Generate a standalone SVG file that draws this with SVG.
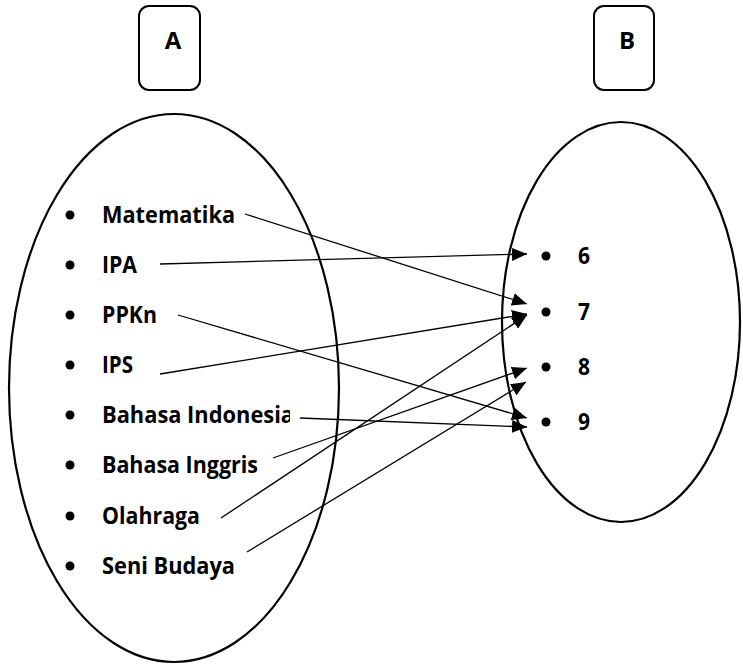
<svg xmlns="http://www.w3.org/2000/svg" width="743" height="664" viewBox="0 0 743 664">
  <style>
    .set { fill: none; stroke: #000; stroke-width: 2.2; }
    .box { fill: #fff; stroke: #000; stroke-width: 2; }
    .lbl { font-family: "Open Sans", "Liberation Sans", Arial, sans-serif; font-weight: bold; font-size: 24px; fill: #000; }
    .dot { fill: #000; }
    .link { fill: none; stroke: #000; stroke-width: 1.3; marker-end: url(#head); }
  </style>
  <defs>
    <marker id="head" viewBox="0 0 15 13" refX="15" refY="6.5" markerWidth="15" markerHeight="13" markerUnits="userSpaceOnUse" orient="auto">
      <path d="M0,0 L15,6.5 L0,13 Z" fill="#000"/>
    </marker>
    <clipPath id="clipIndo">
      <rect x="95" y="395" width="195" height="40"/>
    </clipPath>
  </defs>

  <rect width="743" height="664" fill="#fff"/>

  <!-- set name boxes -->
  <g id="box-A">
    <rect class="box" x="139" y="6" width="61" height="84" rx="10"/>
    <text class="lbl" x="173" y="49" text-anchor="middle">A</text>
  </g>
  <g id="box-B">
    <rect class="box" x="594" y="6" width="60" height="84" rx="10"/>
    <text class="lbl" x="627" y="49" text-anchor="middle">B</text>
  </g>

  <!-- domain set -->
  <g id="set-A">
    <ellipse class="set" cx="174" cy="388" rx="165" ry="274"/>
    <g id="a-matematika"><circle class="dot" cx="70" cy="215" r="4.5"/><text class="lbl" x="102" y="223" textLength="133" lengthAdjust="spacingAndGlyphs">Matematika</text></g>
    <g id="a-ipa"><circle class="dot" cx="70" cy="265" r="4.5"/><text class="lbl" x="102" y="273" textLength="35" lengthAdjust="spacingAndGlyphs">IPA</text></g>
    <g id="a-ppkn"><circle class="dot" cx="70" cy="315" r="4.5"/><text class="lbl" x="102" y="323" textLength="55" lengthAdjust="spacingAndGlyphs">PPKn</text></g>
    <g id="a-ips"><circle class="dot" cx="70" cy="365" r="4.5"/><text class="lbl" x="102" y="373" textLength="31" lengthAdjust="spacingAndGlyphs">IPS</text></g>
    <g id="a-bahasa-indonesia"><circle class="dot" cx="70" cy="415" r="4.5"/><text class="lbl" x="102" y="423" textLength="192" lengthAdjust="spacingAndGlyphs" clip-path="url(#clipIndo)">Bahasa Indonesia</text></g>
    <g id="a-bahasa-inggris"><circle class="dot" cx="70" cy="465" r="4.5"/><text class="lbl" x="102" y="473" textLength="156" lengthAdjust="spacingAndGlyphs">Bahasa Inggris</text></g>
    <g id="a-olahraga"><circle class="dot" cx="70" cy="516" r="4.5"/><text class="lbl" x="102" y="524" textLength="98" lengthAdjust="spacingAndGlyphs">Olahraga</text></g>
    <g id="a-seni-budaya"><circle class="dot" cx="70" cy="566" r="4.5"/><text class="lbl" x="102" y="574" textLength="133" lengthAdjust="spacingAndGlyphs">Seni Budaya</text></g>
  </g>

  <!-- codomain set -->
  <g id="set-B">
    <ellipse class="set" cx="621" cy="322" rx="119" ry="200"/>
    <g id="b-6"><circle class="dot" cx="546" cy="256" r="4.5"/><text class="lbl" x="578" y="264" textLength="12" lengthAdjust="spacingAndGlyphs">6</text></g>
    <g id="b-7"><circle class="dot" cx="546" cy="312" r="4.5"/><text class="lbl" x="578" y="320" textLength="12" lengthAdjust="spacingAndGlyphs">7</text></g>
    <g id="b-8"><circle class="dot" cx="546" cy="367" r="4.5"/><text class="lbl" x="578" y="375" textLength="12" lengthAdjust="spacingAndGlyphs">8</text></g>
    <g id="b-9"><circle class="dot" cx="546" cy="422" r="4.5"/><text class="lbl" x="578" y="430" textLength="12" lengthAdjust="spacingAndGlyphs">9</text></g>
  </g>

  <!-- mapping arrows -->
  <g id="connectors">
    <line class="link" x1="245" y1="214" x2="527" y2="304"/>
    <line class="link" x1="160" y1="264" x2="527" y2="254"/>
    <line class="link" x1="178" y1="315" x2="527" y2="418"/>
    <line class="link" x1="160" y1="374" x2="527" y2="314"/>
    <line class="link" x1="300" y1="418" x2="527" y2="427"/>
    <line class="link" x1="273" y1="458" x2="527" y2="368"/>
    <line class="link" x1="221" y1="518" x2="527" y2="315"/>
    <line class="link" x1="247" y1="552" x2="526" y2="382"/>
  </g>
</svg>
